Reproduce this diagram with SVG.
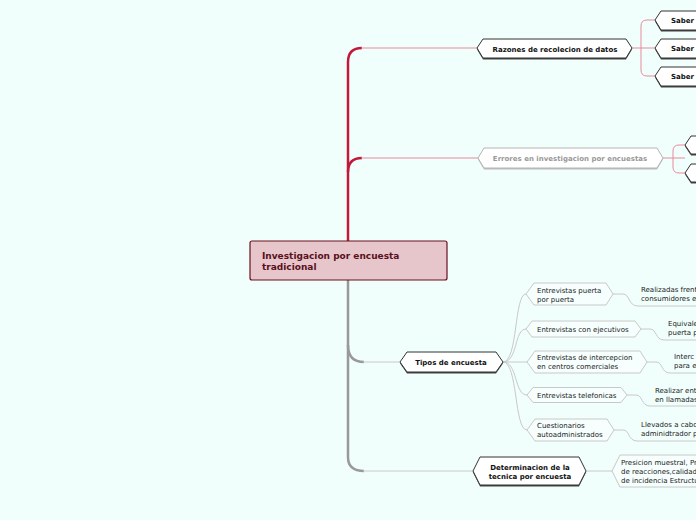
<svg xmlns="http://www.w3.org/2000/svg" width="696" height="520" viewBox="0 0 696 520">
<style>
.t{font-family:"DejaVu Sans",Verdana,sans-serif;font-size:7px;fill:#222}
.b{font-weight:bold;fill:#111}
.mn{fill:#fff;stroke:#333;stroke-width:1}
.sh{fill:#444}
.sub{fill:#f6fffd;stroke:#c8c8c8;stroke-width:1}
.shl{fill:#ddd}
.red{fill:none;stroke:#c2183c;stroke-width:2.5}
.pk{fill:none;stroke:#e8899a;stroke-width:1}
.gt{fill:none;stroke:#999;stroke-width:2.5}
.gl{fill:none;stroke:#c8c8c8;stroke-width:1}
</style>
<rect width="696" height="520" fill="#f1fffc"/>
<g id="connectors">
<path class="red" d="M348,241 L348,62 Q348,48 362,48"/>
<path class="pk" d="M361,48 L478,48"/>
<path class="red" d="M348,172 Q348,158 362,158" stroke-width="2"/>
<path class="pk" d="M361,158 L478,158"/>
<path class="pk" d="M632,48 L655,48 M655,20 L647,20 Q641,20 641,26 L641,70 Q641,76 647,76 L655,76"/>
<path class="pk" d="M663,158 L685,158 M685,145 L679,145 Q673,145 673,151 L673,167 Q673,173 679,173 L685,173"/>
<path class="gt" d="M348,280 L348,457 Q348,471 364,471"/>
<path class="gl" d="M363,471 L473,471"/>
<path class="gt" d="M348,345 Q348,362 364,362" stroke-width="1.5"/>
<path class="gl" d="M363,362 L400,362"/>
<path class="gl" d="M503,362 C518,362 514,294 526,294 M503,362 C518,362 514,329 526,329 M503,362 L527,362 M503,362 C518,362 514,395 527,395 M503,362 C518,362 514,430 527,430"/>
<path class="gl" d="M613,294 L623,294 C630,294 628,306 638,306 L700,306"/>
<path class="gl" d="M641,329 L650,329 C657,329 655,340 664,340 L700,340"/>
<path class="gl" d="M647,362 L656,362 C663,362 661,373 670,373 L700,373"/>
<path class="gl" d="M627,395 L636,395 C643,395 641,406 650,406 L700,406"/>
<path class="gl" d="M614,430 L623,430 C630,430 628,441 637,441 L700,441"/>
<path class="gl" d="M586,471 L612,471"/>
</g>
<g id="root">
<rect x="250" y="241" width="197" height="39" rx="2" fill="#e6c6ca" stroke="#6a1020" stroke-width="1.2"/>
<text class="t b" x="262" y="259" font-size="9" fill="#5a1020" style="font-size:9px;fill:#5a1020">Investigacion por encuesta</text>
<text class="t b" x="262" y="270" style="font-size:9px;fill:#5a1020">tradicional</text>
</g>
<g id="razones">
<polygon class="sh" points="477,49.5 483,40.5 626,40.5 632,49.5 626,59.5 483,59.5"/>
<polygon class="mn" points="477,48 483,39 626,39 632,48 626,58 483,58"/>
<text class="t b" x="555" y="51.5" text-anchor="middle">Razones de recolecion de datos</text>
</g>
<g id="saber1">
<polygon class="sh" points="655,21.5 661,12.5 700,12.5 700,31.5 661,31.5"/>
<polygon class="mn" points="655,20 661,11 700,11 700,30 661,30"/>
<text class="t b" x="671" y="23">Saber</text>
</g>
<g id="saber2">
<polygon class="sh" points="655,49.5 661,40.5 700,40.5 700,59.5 661,59.5"/>
<polygon class="mn" points="655,48 661,39 700,39 700,58 661,58"/>
<text class="t b" x="671" y="51">Saber</text>
</g>
<g id="saber3">
<polygon class="sh" points="655,77.5 661,68.5 700,68.5 700,87.5 661,87.5"/>
<polygon class="mn" points="655,76 661,67 700,67 700,86 661,86"/>
<text class="t b" x="671" y="79">Saber</text>
</g>
<g id="errores">
<polygon fill="#bbb" points="478,159.5 484,149.5 657,149.5 663,159.5 657,169.5 484,169.5"/>
<polygon fill="#fff" stroke="#b5b5b5" points="478,158 484,148 657,148 663,158 657,168 484,168"/>
<text class="t b" x="570" y="160.5" text-anchor="middle" style="fill:#999">Errores en investigacion por encuestas</text>
</g>
<g id="error1">
<polygon class="sh" points="685,146.5 691,137.5 700,137.5 700,155.5 691,155.5"/>
<polygon class="mn" points="685,145 691,136 700,136 700,154 691,154"/>
</g>
<g id="error2">
<polygon class="sh" points="685,174.5 691,165.5 700,165.5 700,183.5 691,183.5"/>
<polygon class="mn" points="685,173 691,164 700,164 700,182 691,182"/>
</g>
<g id="tipos">
<polygon class="sh" points="400,363.5 407,353.5 496,353.5 503,363.5 496,373.5 407,373.5"/>
<polygon class="mn" points="400,362 407,352 496,352 503,362 496,372 407,372"/>
<text class="t b" x="451" y="364.5" text-anchor="middle">Tipos de encuesta</text>
</g>
<g id="puerta">
<polygon class="sub" points="526,294 534,283 606,283 613,294 606,305 534,305"/>
<text class="t" x="537" y="292.5">Entrevistas puerta</text>
<text class="t" x="537" y="301.5">por puerta</text>
</g>
<g id="puerta-desc">
<text class="t" x="641" y="292">Realizadas frent</text>
<text class="t" x="641" y="301">consumidores e</text>
</g>
<g id="ejecutivos">
<polygon class="sub" points="526,329 532,321 635,321 641,329 635,337 532,337"/>
<text class="t" x="537" y="331.5">Entrevistas con ejecutivos</text>
</g>
<g id="ejecutivos-desc">
<text class="t" x="668" y="326">Equivale</text>
<text class="t" x="668" y="335">puerta p</text>
</g>
<g id="intercepcion">
<polygon class="sub" points="527,362 535,351 640,351 647,362 640,373 535,373"/>
<text class="t" x="537" y="359.5">Entrevistas de intercepcion</text>
<text class="t" x="537" y="368.5">en centros comerciales</text>
</g>
<g id="intercepcion-desc">
<text class="t" x="674" y="359">Interc</text>
<text class="t" x="674" y="368">para e</text>
</g>
<g id="telefonicas">
<polygon class="sub" points="527,395 533,387.5 621,387.5 627,395 621,402.5 533,402.5"/>
<text class="t" x="537" y="397.5">Entrevistas telefonicas</text>
</g>
<g id="telefonicas-desc">
<text class="t" x="655" y="393">Realizar ent</text>
<text class="t" x="655" y="402">en llamadas</text>
</g>
<g id="cuestionarios">
<polygon class="sub" points="527,430 535,419 607,419 614,430 607,441 535,441"/>
<text class="t" x="537" y="427.5">Cuestionarios</text>
<text class="t" x="537" y="436.5">autoadministrados</text>
</g>
<g id="cuestionarios-desc">
<text class="t" x="641" y="426.5">Llevados a cabo</text>
<text class="t" x="641" y="435.5">adminidtrador p</text>
</g>
<g id="determinacion">
<polygon class="sh" points="473,472.5 480,458.5 579,458.5 586,472.5 579,486.5 480,486.5"/>
<polygon class="mn" points="473,471 480,457 579,457 586,471 579,485 480,485"/>
<text class="t b" x="530" y="469.5" text-anchor="middle">Determinacion de la</text>
<text class="t b" x="530" y="479" text-anchor="middle">tecnica por encuesta</text>
</g>
<g id="determinacion-desc">
<polygon class="sub" points="612,471 620,455 700,455 700,487 620,487"/>
<text class="t" x="621" y="464.5">Presicion muestral, Pr</text>
<text class="t" x="621" y="473.5">de reacciones,calidad</text>
<text class="t" x="621" y="482.5">de incidencia Estructu</text>
</g>
</svg>
